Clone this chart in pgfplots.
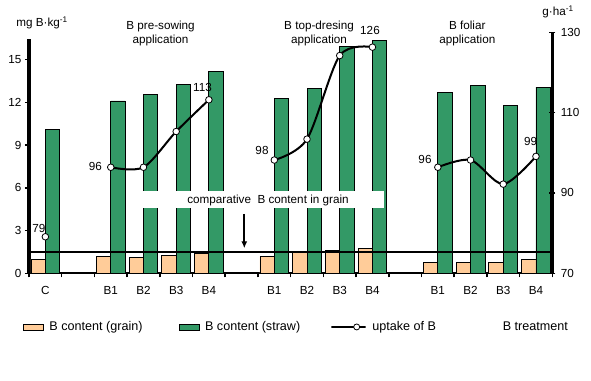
\documentclass[border=0pt]{standalone}
\usepackage{fontspec}
\setmainfont{Liberation Sans}
\usepackage{pgfplots}
\pgfplotsset{compat=1.18}
\usepackage{pgfplotstable}
\usetikzlibrary{arrows.meta}
\definecolor{grain}{RGB}{255,204,153}
\definecolor{straw}{RGB}{51,153,102}

\pgfplotstableread{
x grain straw
0 1.00 10.10
2 1.19 12.09
3 1.12 12.56
4 1.26 13.26
5 1.42 14.18
7 1.19 12.28
8 1.49 12.98
9 1.61 15.90
10 1.75 16.35
12 0.77 12.72
13 0.77 13.19
14 0.77 11.79
15 1.00 13.07
}\bars

\pgfplotstableread{
x up
2 96.4
3 96.4
4 105.3
5 113.2
}\uppre
\pgfplotstableread{
x up
7 98.2
8 103.4
9 124.2
10 126.3
}\uptop
\pgfplotstableread{
x up
12 96.4
13 98.2
14 92.2
15 99.1
}\upfol

\newcommand{\ft}{\fontsize{11.7bp}{14bp}\selectfont}
\newcommand{\lft}{\fontsize{12.6bp}{15bp}\selectfont}
\pgfplotsset{
  uplegend/.style={legend image code/.code={\draw[##1, mark repeat=2, mark phase=2] plot coordinates {(0bp,0bp) (10bp,0bp) (20bp,0bp)};}},
  grainlegend/.style={legend image code/.code={\draw[fill=grain,draw=black,line width=0.8bp] (0bp,-3bp) rectangle (20bp,3bp);}},
  strawlegend/.style={legend image code/.code={\draw[fill=straw,draw=black,line width=0.8bp] (0bp,-3bp) rectangle (20bp,3bp);}},
}

\begin{document}
\begin{tikzpicture}
\path[use as bounding box] (0bp,0bp) rectangle (591bp,381bp);
\begin{axis}[
  at={(29bp,107.7bp)}, anchor=south west,
  width=523.3bp, height=234.3bp, scale only axis,
  xmin=-0.5, xmax=15.5, ymin=0, ymax=16.44,
  axis x line*=bottom, axis y line*=left,
  x axis line style={-, line width=2bp},
  y axis line style={-, line width=3bp},
  ytick={0,3,...,15},
  xtick={-0.5,0.5,...,15.5}, xticklabels={},
  extra x ticks={0,2,3,4,5,7,8,9,10,12,13,14,15},
  extra x tick labels={C,B1,B2,B3,B4,B1,B2,B3,B4,B1,B2,B3,B4},
  extra x tick style={major tick length=0pt, xticklabel style={yshift=-10bp}},
  tick align=outside, major tick length=4bp,
  every tick/.style={black, line width=1.5bp},
  ticklabel style={font=\ft},
  /pgf/number format/assume math mode=true,
  ybar, bar width=0.44,
  legend columns=4,
  legend style={at={(axis description cs:-0.012,-0.229)}, anchor=west,
    draw=none, fill=none, inner sep=0pt, font=\lft,
    nodes={inner sep=0pt},
    /tikz/every odd column/.append style={column sep=5.7bp}},
]
\addplot[fill=grain, draw=black, line width=0.8bp, bar shift=-0.22, grainlegend]
  table[x=x,y=grain]{\bars};
\addlegendentry{B content (grain)\rule{36bp}{0pt}}
\addplot[fill=straw, draw=black, line width=0.8bp, bar shift=0.22, strawlegend]
  table[x=x,y=straw]{\bars};
\addlegendentry{B content (straw)\rule{30bp}{0pt}}
\addlegendimage{black, line width=2bp, mark=*, mark options={fill=white, line width=0.8bp}, mark size=3bp, uplegend}
\addlegendentry{uptake of B\rule{61bp}{0pt}}
\addlegendimage{empty legend}
\addlegendentry{B treatment}
\addplot[sharp plot, black, line width=2bp, forget plot] coordinates {(-0.5,1.5) (15.5,1.5)};
\end{axis}

\fill[white] (143bp,172.7bp) rectangle (384.3bp,190.3bp);
\node[font=\ft] at (268bp,181bp) {comparative\ \ B content in grain};
\draw[line width=2bp, -{Latex[length=7bp,width=6bp]}] (244.3bp,167bp) -- (244.3bp,132.7bp);

\begin{axis}[
  at={(29bp,107.7bp)}, anchor=south west,
  width=523.3bp, height=241bp, scale only axis,
  xmin=-0.5, xmax=15.5, ymin=70, ymax=130,
  axis y line*=right, axis x line=none,
  y axis line style={-, line width=3.5bp},
  ytick={70,90,110,130},
  tick align=center, major tick length=6bp,
  every tick/.style={black, line width=1.5bp},
  ticklabel style={font=\ft},
  yticklabel style={xshift=2bp},
  /pgf/number format/assume math mode=true,
]
\addplot[black, line width=2bp, smooth, tension=0.5, mark=*, mark size=3.3bp,
  mark options={fill=white, draw=black, line width=0.8bp}] table[x=x,y=up]{\uppre};
\addplot[black, line width=2bp, smooth, tension=0.5, mark=*, mark size=3.3bp,
  mark options={fill=white, draw=black, line width=0.8bp}] table[x=x,y=up]{\uptop};
\addplot[black, line width=2bp, smooth, tension=0.5, mark=*, mark size=3.3bp,
  mark options={fill=white, draw=black, line width=0.8bp}] table[x=x,y=up]{\upfol};
\addplot[only marks, mark=*, mark size=3.3bp,
  mark options={fill=white, draw=black, line width=0.8bp}] coordinates {(0,79.1)};
\end{axis}

\begin{scope}[every node/.style={font=\ft}]
\node at (42bp,358bp) {mg B·kg\textsuperscript{-1}};
\node[align=center] at (160.5bp,347.3bp) {B pre-sowing\\application};
\node[align=center] at (319bp,347.3bp) {B top-dresing\\application};
\node[align=center] at (467.3bp,347.3bp) {B foliar\\application};
\node at (558bp,369.3bp) {g·ha\textsuperscript{-1}};
\node at (39bp,152.7bp) {79};
\node[anchor=east] at (105.5bp,214.3bp) {96};
\node at (202.5bp,294bp) {113};
\node at (262bp,231bp) {98};
\node at (370bp,350.3bp) {126};
\node at (425bp,221.7bp) {96};
\node at (530.5bp,239.3bp) {99};
\end{scope}
\end{tikzpicture}
\end{document}
